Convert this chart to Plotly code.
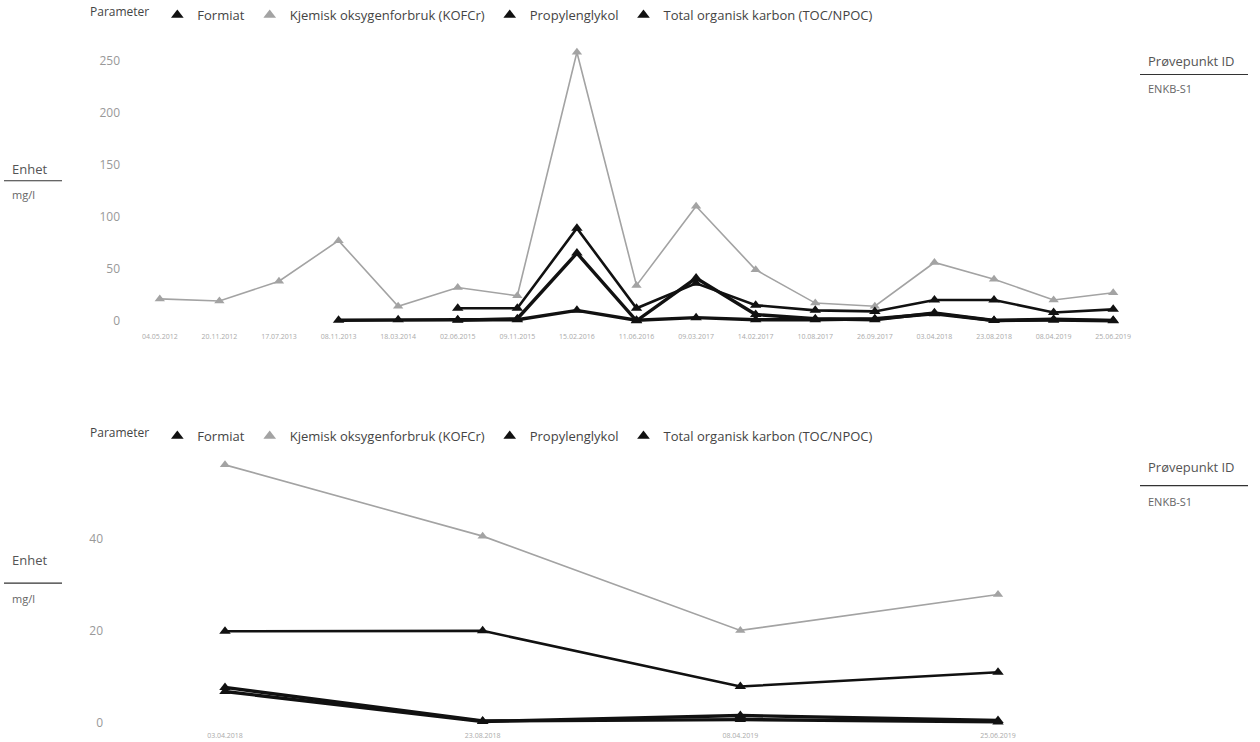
import plotly.graph_objects as go

# ---------------- data ----------------
dates_top = ["04.05.2012", "20.11.2012", "17.07.2013", "08.11.2013", "18.03.2014",
             "02.06.2015", "09.11.2015", "15.02.2016", "11.06.2016", "09.03.2017",
             "14.02.2017", "10.08.2017", "26.09.2017", "03.04.2018", "23.08.2018",
             "08.04.2019", "25.06.2019"]
formiat_top = [None, None, None, 0.5, 1, 1, 1, 10, 0.5, 3, 1, 1, 2, 6.7, 0.2, 1.5, 0.4]
kofcr_top = [21, 19, 38, 77, 14, 32, 24, 258, 34, 110, 49, 17, 14, 56, 40, 20, 27]
propylen_top = [None, None, None, None, None, 0.5, 2, 65, 0, 41, 6, 2, 1, 7.6, 0.3, 0.6, 0.1]
toc_top = [None, None, None, None, None, 12, 12, 89, 12, 36, 15, 10, 9, 20, 20, 8, 11]

dates_bot = ["03.04.2018", "23.08.2018", "08.04.2019", "25.06.2019"]
formiat_bot = [6.7, 0.2, 1.5, 0.4]
kofcr_bot = [56, 40.5, 20, 27.8]
propylen_bot = [7.6, 0.3, 0.6, 0.1]
toc_bot = [19.8, 19.9, 7.8, 10.9]

series_names = ["Formiat", "Kjemisk oksygenforbruk (KOFCr)", "Propylenglykol",
                "Total organisk karbon (TOC/NPOC)"]
top_ticks = [0, 50, 100, 150, 200, 250]
bot_ticks = [0, 20, 40]

# ---------------- styling ----------------
W, H = 1260, 742
BLACK = "#111111"
GRAY = "#a3a3a3"
FONT = "Open Sans"

def py(p):
    return 1 - p / H

def px(p):
    return p / W

styles = {
    "Formiat": dict(color=BLACK, width=3.4, msize=10),
    "Kjemisk oksygenforbruk (KOFCr)": dict(color=GRAY, width=1.6, msize=9),
    "Propylenglykol": dict(color=BLACK, width=3.4, msize=10),
    "Total organisk karbon (TOC/NPOC)": dict(color=BLACK, width=2.6, msize=10),
}

fig = go.Figure()

top_data = [formiat_top, kofcr_top, propylen_top, toc_top]
bot_data = [formiat_bot, kofcr_bot, propylen_bot, toc_bot]

# draw KOFCr first so black lines lie on top
order = [1, 0, 2, 3]
for i in order:
    name = series_names[i]
    s = styles[name]
    fig.add_trace(go.Scatter(
        x=dates_top, y=top_data[i], mode="lines+markers", name=name,
        line=dict(color=s["color"], width=s["width"]),
        marker=dict(symbol="triangle-up", size=s["msize"], color=s["color"]),
        xaxis="x", yaxis="y", showlegend=False, cliponaxis=False,
        connectgaps=False))
    fig.add_trace(go.Scatter(
        x=dates_bot, y=bot_data[i], mode="lines+markers", name=name,
        line=dict(color=s["color"], width=s["width"]),
        marker=dict(symbol="triangle-up", size=s["msize"], color=s["color"]),
        xaxis="x2", yaxis="y2", showlegend=False, cliponaxis=False))

# legend entries (marker only), one legend per chart
for leg in ["legend", "legend2"]:
    for name in series_names:
        s = styles[name]
        fig.add_trace(go.Scatter(
            x=[None], y=[None], mode="markers", name=name,
            marker=dict(symbol="triangle-up", size=11, color=s["color"]),
            xaxis="x", yaxis="y", legend=leg, showlegend=True))

# axes geometry (pixels)
top_y0_px, top_y1_px = 326.1, 40
bot_y0_px, bot_y1_px = 730.5, 449.5

legend_common = dict(
    orientation="h", xanchor="left", yanchor="middle",
    font=dict(family=FONT, size=13, color="#444444"),
    itemwidth=30, bgcolor="rgba(0,0,0,0)", tracegroupgap=0,
    title=dict(text="Parameter", font=dict(family=FONT, size=12, color="#444444")),
)

fig.update_layout(
    width=W, height=H,
    margin=dict(l=0, r=0, t=0, b=0),
    paper_bgcolor="white", plot_bgcolor="white",
    font=dict(family=FONT, color="#888888"),
    legend=dict(x=px(88), y=py(15), **legend_common),
    legend2=dict(x=px(88), y=py(439), **legend_common),
    xaxis=dict(domain=[px(130), px(1143)], type="category",
               range=[-0.5, len(dates_top) - 0.5],
               showgrid=False, zeroline=False, showline=False,
               tickfont=dict(size=7, color="#aaaaaa", family=FONT),
               ticks="outside", ticklen=6, tickcolor="white",
               tickangle=0, anchor="y"),
    yaxis=dict(domain=[py(top_y0_px), py(top_y1_px)], range=[-3, 270],
               tickvals=top_ticks, showgrid=False, zeroline=False, showline=False,
               tickfont=dict(size=12, color="#999999", family=FONT),
               ticklabelstandoff=9, anchor="x"),
    xaxis2=dict(domain=[px(110), px(1130)], type="category",
                range=[-(225 - 110) / 257.7, 3 + (1130 - 998) / 257.7],
                showgrid=False, zeroline=False, showline=False,
                tickfont=dict(size=7, color="#aaaaaa", family=FONT),
                ticks="outside", ticklen=3, tickcolor="white",
                tickangle=0, anchor="y2"),
    yaxis2=dict(domain=[py(bot_y0_px), py(bot_y1_px)], range=[-0.7, 60],
                tickvals=bot_ticks, showgrid=False, zeroline=False, showline=False,
                tickfont=dict(size=12, color="#999999", family=FONT),
                ticklabelstandoff=6, anchor="x2"),
)

def side_block(x_text, y_title, y_line, y_val, x0, x1, title, value):
    fig.add_annotation(x=px(x_text), y=py(y_title), xref="paper", yref="paper",
                       text=title, showarrow=False, xanchor="left", yanchor="middle",
                       font=dict(family=FONT, size=13, color="#555555"))
    fig.add_shape(type="line", xref="paper", yref="paper",
                  x0=px(x0), x1=px(x1), y0=py(y_line), y1=py(y_line),
                  line=dict(color="#333333", width=1.2))
    fig.add_annotation(x=px(x_text), y=py(y_val), xref="paper", yref="paper",
                       text=value, showarrow=False, xanchor="left", yanchor="middle",
                       font=dict(family=FONT, size=11, color="#666666"))

# right: sample point id
side_block(1146, 61, 75, 89, 1140, 1248, "Prøvepunkt ID", "ENKB-S1")
side_block(1146, 470, 489, 505, 1140, 1248, "Prøvepunkt ID", "ENKB-S1")
# left: unit
side_block(10, 170, 182, 196, 4, 62, "Enhet", "mg/l")
side_block(10, 564, 587, 603, 4, 62, "Enhet", "mg/l")

fig.write_html("out.html",
               config={"displayModeBar": False},
               post_script="document.body.style.margin='0px';"
                           "document.body.style.overflow='hidden';")
